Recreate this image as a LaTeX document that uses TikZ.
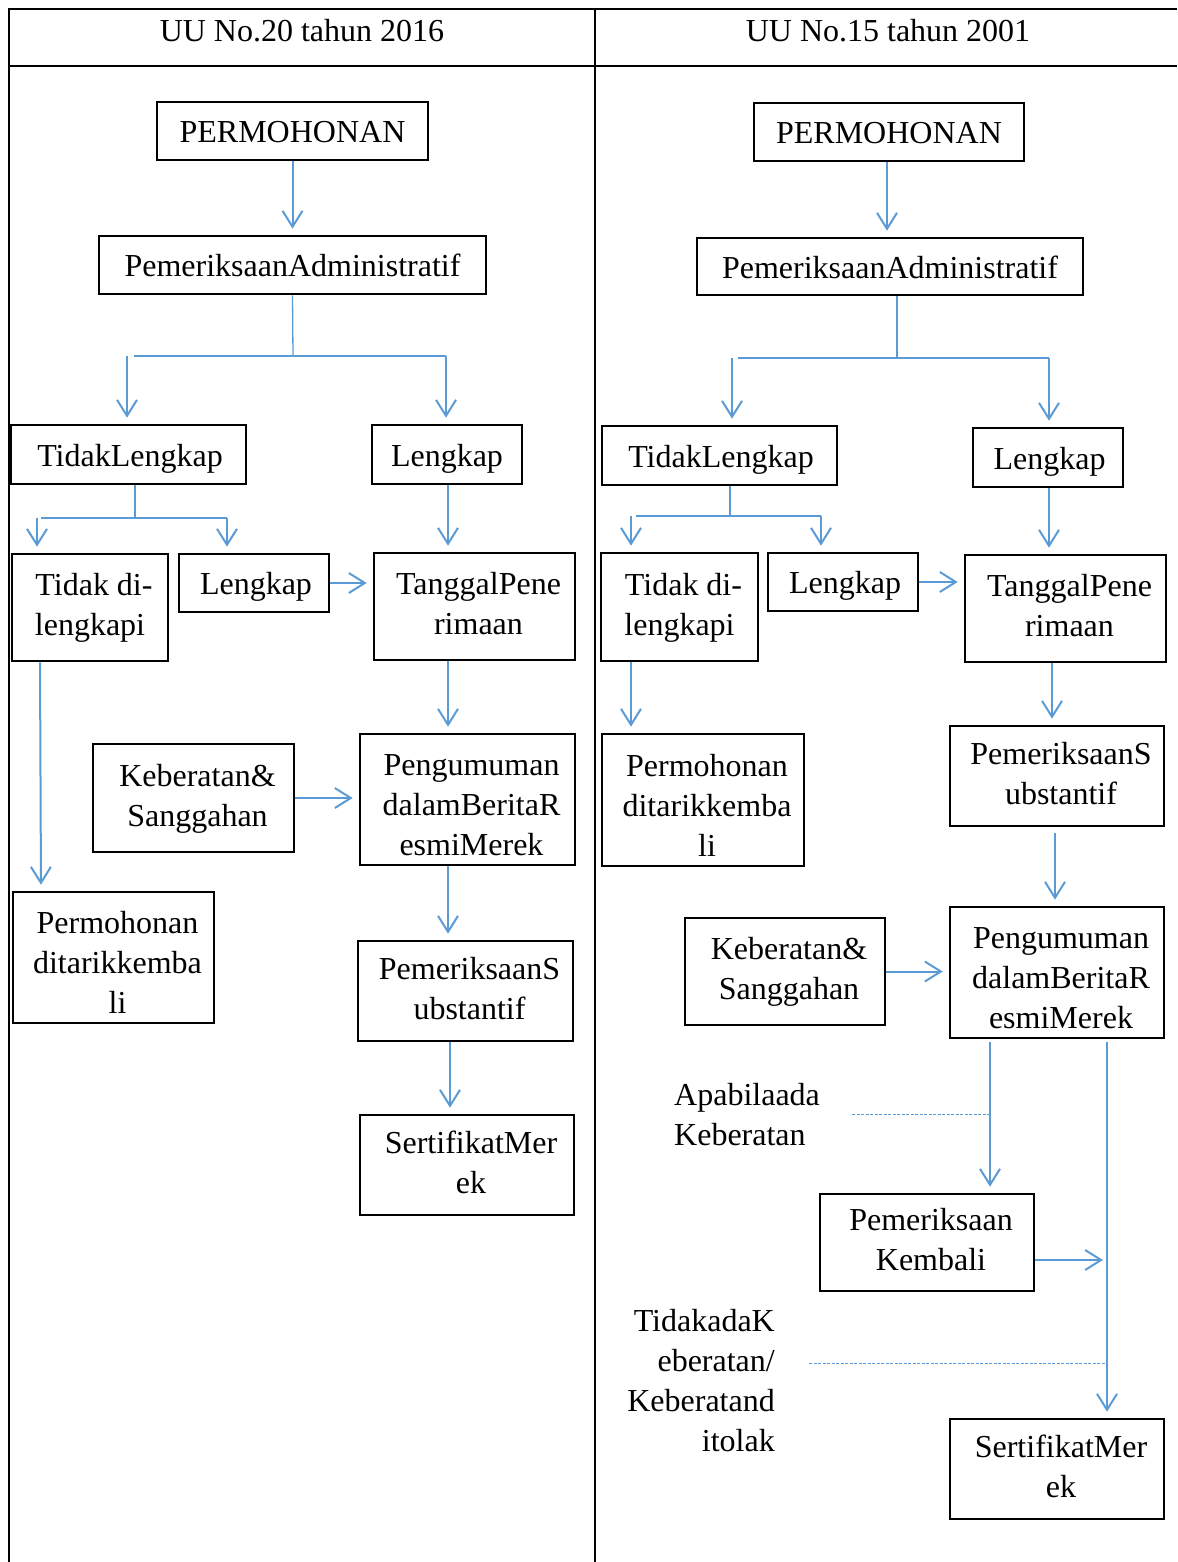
\documentclass[tikz,border=0pt]{standalone}
\usepackage{fontspec}
\setmainfont{Liberation Serif}
\usetikzlibrary{arrows.meta}
\definecolor{cblue}{RGB}{91,155,213}
\newcommand{\pushr}{\hspace*{8pt}}
\begin{document}
\begin{tikzpicture}[x=1pt,y=-1pt,
  box/.style={draw=black, line width=2.6pt, align=center, inner sep=0pt,
    font=\fontsize{32}{40}\selectfont},
  lone/.style={text height=23pt, text depth=0pt},
  ltwo/.style={text height=62pt, text depth=6pt},
  lthree/.style={text height=114pt, text depth=2pt},
  hdr/.style={inner sep=0pt, font=\fontsize{32}{40}\selectfont},
  lbl/.style={inner sep=0pt, font=\fontsize{32}{40}\selectfont},
  arr/.style={draw=cblue, line width=2pt,
    -{Straight Barb[length=16pt,width=20pt,line width=2pt]}, shorten >=6pt},
  conn/.style={draw=cblue, line width=1.3pt},
  dline/.style={draw=cblue, line width=0.9pt, dash pattern=on 3pt off 1.5pt},
  grid/.style={draw=black, line width=2.4pt}]
\useasboundingbox (0,0) rectangle (1177,1562);
% table
\draw[grid] (9,1562) -- (9,9) -- (1177,9);
\draw[grid] (9,66) -- (1177,66);
\draw[grid] (595,9) -- (595,1562);
\node[hdr] (h1) at (302,31) {UU No.20 tahun 2016};
\node[hdr] (h2) at (888,31) {UU No.15 tahun 2001};

% ===== left column =====
\node[box, lone, minimum width=271pt, minimum height=58pt] (perm1) at (292.5,131) {PERMOHONAN};
\node[box, lone, minimum width=387pt, minimum height=58pt] (adm1) at (292.5,265) {PemeriksaanAdministratif};
\node[box, lone, minimum width=235pt, minimum height=59pt] (tl1) at (128.5,454.5) {\hspace*{3pt}TidakLengkap};
\node[box, lone, minimum width=150pt, minimum height=59pt] (lk1) at (447,454.5) {Lengkap};
\node[box, ltwo, minimum width=156pt, minimum height=107pt] (td1) at (90,607.5) {\hspace*{8pt}Tidak di-\\lengkapi};
\node[box, lone, minimum width=150pt, minimum height=58pt] (lks1) at (254,583) {\hspace*{4pt}Lengkap};
\node[box, ltwo, minimum width=201pt, minimum height=107pt] (tp1) at (474.5,606.5) {\pushr TanggalPene\\\pushr rimaan};
\node[box, lthree, minimum width=215pt, minimum height=131pt] (pg1) at (467.5,799.5) {\pushr Pengumuman\\\pushr dalamBeritaR\\\pushr esmiMerek};
\node[box, ltwo, minimum width=201pt, minimum height=108pt] (kb1) at (193.5,798) {\pushr Keberatan\&\\\pushr Sanggahan};
\node[box, ltwo, minimum width=215pt, minimum height=100pt] (ps1) at (465.5,991) {\pushr PemeriksaanS\\\pushr ubstantif};
\node[box, ltwo, minimum width=214pt, minimum height=100pt] (sm1) at (467,1165) {\pushr SertifikatMer\\\pushr ek};
\node[box, lthree, minimum width=201pt, minimum height=131pt] (pd1) at (113.5,957.5) {\pushr Permohonan\\\pushr ditarikkemba\\\pushr li};

\draw[arr] (perm1.south) -- (adm1.north);
\coordinate (b1) at (293,356);
\draw[conn] (adm1.south) -- (b1);
\draw[conn] (134,356) -- (446,356);
\draw[arr] (127,356) -- (127,0 |- tl1.north);
\draw[arr] (446,356) -- (446,0 |- lk1.north);
\coordinate (b2) at (135,518);
\draw[conn] (135,0 |- tl1.south) -- (b2);
\draw[conn] (41,518) -- (227,518);
\draw[arr] (37,518) -- (37,0 |- td1.north);
\draw[arr] (227,518) -- (227,0 |- lks1.north);
\draw[arr] (lks1.east) -- (lks1.east -| tp1.west);
\draw[arr] (448,0 |- lk1.south) -- (448,0 |- tp1.north);
\draw[arr] (448,0 |- tp1.south) -- (448,0 |- pg1.north);
\draw[arr] (kb1.east) -- (kb1.east -| pg1.west);
\draw[arr] (448,0 |- pg1.south) -- (448,0 |- ps1.north);
\draw[arr] (450,0 |- ps1.south) -- (450,0 |- sm1.north);
\draw[arr] (40,0 |- td1.south) -- (41,0 |- pd1.north);

% ===== right column =====
\node[box, lone, minimum width=270pt, minimum height=58pt] (perm2) at (889,132) {PERMOHONAN};
\node[box, lone, minimum width=386pt, minimum height=57pt] (adm2) at (890,266.5) {PemeriksaanAdministratif};
\node[box, lone, minimum width=235pt, minimum height=59pt] (tl2) at (719.5,455.5) {\hspace*{3pt}TidakLengkap};
\node[box, lone, minimum width=150pt, minimum height=59pt] (lk2) at (1048,457.5) {\hspace*{3pt}Lengkap};
\node[box, ltwo, minimum width=157pt, minimum height=108pt] (td2) at (679.5,607) {\hspace*{8pt}Tidak di-\\lengkapi};
\node[box, lone, minimum width=150pt, minimum height=58pt] (lks2) at (843,582) {\hspace*{4pt}Lengkap};
\node[box, ltwo, minimum width=201pt, minimum height=107pt] (tp2) at (1065.5,608.5) {\pushr TanggalPene\\\pushr rimaan};
\node[box, lthree, minimum width=202pt, minimum height=132pt] (pd2) at (703,800) {\pushr Permohonan\\\pushr ditarikkemba\\\pushr li};
\node[box, ltwo, minimum width=214pt, minimum height=100pt] (ps2) at (1057,776) {\pushr PemeriksaanS\\\pushr ubstantif};
\node[box, lthree, minimum width=214pt, minimum height=131pt] (pg2) at (1057,972.5) {\pushr Pengumuman\\\pushr dalamBeritaR\\\pushr esmiMerek};
\node[box, ltwo, minimum width=200pt, minimum height=107pt] (kb2) at (785,971.5) {\pushr Keberatan\&\\\pushr Sanggahan};
\node[box, ltwo, minimum width=214pt, minimum height=97pt] (pk2) at (927,1242.5) {\pushr Pemeriksaan\\\pushr Kembali};
\node[box, ltwo, minimum width=214pt, minimum height=100pt] (sm2) at (1057,1469) {\pushr SertifikatMer\\\pushr ek};

\node[lbl, anchor=west, align=left] (lb1) at (674,1115) {Apabilaada\\Keberatan};
\node[lbl, anchor=east, align=right] (lb2) at (775,1381) {TidakadaK\\eberatan/\\Keberatand\\itolak};

\draw[arr] (887,0 |- perm2.south) -- (887,0 |- adm2.north);
\coordinate (b3) at (897,358);
\draw[conn] (897,0 |- adm2.south) -- (b3);
\draw[conn] (738,358) -- (1049,358);
\draw[arr] (732,358) -- (732,0 |- tl2.north);
\draw[arr] (1049,358) -- (1049,0 |- lk2.north);
\coordinate (b4) at (730,516);
\draw[conn] (730,0 |- tl2.south) -- (b4);
\draw[conn] (636,516) -- (821,516);
\draw[arr] (631,516) -- (631,0 |- td2.north);
\draw[arr] (821,516) -- (821,0 |- lks2.north);
\draw[arr] (lks2.east) -- (lks2.east -| tp2.west);
\draw[arr] (1049,0 |- lk2.south) -- (1049,0 |- tp2.north);
\draw[arr] (631,0 |- td2.south) -- (631,0 |- pd2.north);
\draw[arr] (1052,0 |- tp2.south) -- (1052,0 |- ps2.north);
\draw[arr, shorten <=6pt] (1055,0 |- ps2.south) -- (1055,0 |- pg2.north);
\draw[arr] (kb2.east) -- (kb2.east -| pg2.west);
\draw[arr, shorten <=3pt] (990,0 |- pg2.south) -- (990,0 |- pk2.north);
\draw[arr, shorten <=3pt] (1107,0 |- pg2.south) -- (1107,0 |- sm2.north);
\coordinate (v1) at (1107,1260);
\draw[arr, shorten >=4pt] (pk2.east |- v1) -- (v1);
\coordinate (d1) at (990,1114);
\draw[dline] (852,1114) -- (d1);
\coordinate (d2) at (1107,1363);
\draw[dline] (809,1363) -- (d2);
\end{tikzpicture}
\end{document}
